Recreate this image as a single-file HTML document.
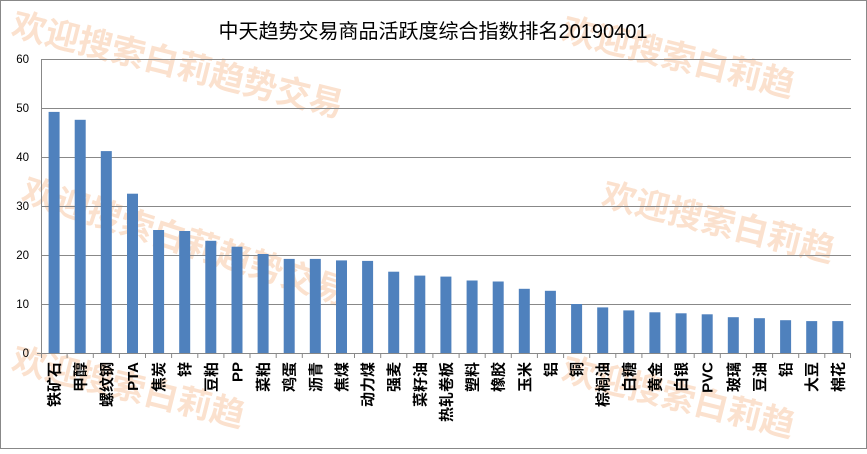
<!DOCTYPE html>
<html><head><meta charset="utf-8"><style>
body{margin:0;background:#fff;}
</style></head><body>
<svg width="867" height="449" xmlns="http://www.w3.org/2000/svg" font-family="Liberation Sans, Noto Sans CJK SC, sans-serif">
<rect x="0.5" y="0.5" width="866" height="448" fill="#fff" stroke="#888"/>
<g fill="#f7c9a6" opacity="0.55" font-size="34" font-weight="bold">
<text transform="translate(10,35) rotate(14)">欢迎搜索白莉趋势交易</text>
<text transform="translate(560,40) rotate(14)">欢迎搜索白莉趋</text>
<text transform="translate(20,200) rotate(18)">欢迎搜索白莉趋势交易</text>
<text transform="translate(600,205) rotate(14)">欢迎搜索白莉趋</text>
<text transform="translate(10,370) rotate(14)">欢迎搜索白莉趋</text>
<text transform="translate(560,380) rotate(14)">欢迎搜索白莉趋</text>
</g>
<text x="433" y="38" text-anchor="middle" font-size="20" fill="#000">中天趋势交易商品活跃度综合指数排名20190401</text>
<g stroke="#888" stroke-width="1">
<line x1="41" y1="59.5" x2="851" y2="59.5"/>
<line x1="41" y1="108.5" x2="851" y2="108.5"/>
<line x1="41" y1="157.5" x2="851" y2="157.5"/>
<line x1="41" y1="206.5" x2="851" y2="206.5"/>
<line x1="41" y1="255.5" x2="851" y2="255.5"/>
<line x1="41" y1="304.5" x2="851" y2="304.5"/>
<line x1="41.5" y1="59" x2="41.5" y2="358"/>
<line x1="37" y1="353.5" x2="851" y2="353.5"/>
<line x1="67.1" y1="353" x2="67.1" y2="358"/><line x1="93.3" y1="353" x2="93.3" y2="358"/><line x1="119.4" y1="353" x2="119.4" y2="358"/><line x1="145.5" y1="353" x2="145.5" y2="358"/><line x1="171.6" y1="353" x2="171.6" y2="358"/><line x1="197.8" y1="353" x2="197.8" y2="358"/><line x1="223.9" y1="353" x2="223.9" y2="358"/><line x1="250" y1="353" x2="250" y2="358"/><line x1="276.2" y1="353" x2="276.2" y2="358"/><line x1="302.3" y1="353" x2="302.3" y2="358"/><line x1="328.4" y1="353" x2="328.4" y2="358"/><line x1="354.5" y1="353" x2="354.5" y2="358"/><line x1="380.7" y1="353" x2="380.7" y2="358"/><line x1="406.8" y1="353" x2="406.8" y2="358"/><line x1="432.9" y1="353" x2="432.9" y2="358"/><line x1="459.1" y1="353" x2="459.1" y2="358"/><line x1="485.2" y1="353" x2="485.2" y2="358"/><line x1="511.3" y1="353" x2="511.3" y2="358"/><line x1="537.4" y1="353" x2="537.4" y2="358"/><line x1="563.6" y1="353" x2="563.6" y2="358"/><line x1="589.7" y1="353" x2="589.7" y2="358"/><line x1="615.8" y1="353" x2="615.8" y2="358"/><line x1="641.9" y1="353" x2="641.9" y2="358"/><line x1="668.1" y1="353" x2="668.1" y2="358"/><line x1="694.2" y1="353" x2="694.2" y2="358"/><line x1="720.3" y1="353" x2="720.3" y2="358"/><line x1="746.4" y1="353" x2="746.4" y2="358"/><line x1="772.6" y1="353" x2="772.6" y2="358"/><line x1="798.7" y1="353" x2="798.7" y2="358"/><line x1="824.8" y1="353" x2="824.8" y2="358"/><line x1="850.5" y1="353" x2="850.5" y2="358"/>
</g>
<g font-size="11.5" fill="#000" text-anchor="end">
<text x="29" y="63">60</text><text x="29" y="112">50</text><text x="29" y="161">40</text>
<text x="29" y="210">30</text><text x="29" y="259">20</text><text x="29" y="308">10</text><text x="29" y="357">0</text>
</g>
<g fill="#4f81bd">
<rect x="48.6" y="111.9" width="11" height="241.1"/>
<rect x="74.7" y="119.8" width="11" height="233.2"/>
<rect x="100.8" y="151.1" width="11" height="201.9"/>
<rect x="127" y="193.7" width="11" height="159.3"/>
<rect x="153.1" y="230" width="11" height="123"/>
<rect x="179.2" y="231" width="11" height="122"/>
<rect x="205.3" y="240.8" width="11" height="112.2"/>
<rect x="231.5" y="246.7" width="11" height="106.3"/>
<rect x="257.6" y="254" width="11" height="99"/>
<rect x="283.7" y="258.9" width="11" height="94.1"/>
<rect x="309.8" y="258.9" width="11" height="94.1"/>
<rect x="336" y="260.4" width="11" height="92.6"/>
<rect x="362.1" y="260.9" width="11" height="92.1"/>
<rect x="388.2" y="271.7" width="11" height="81.3"/>
<rect x="414.3" y="275.6" width="11" height="77.4"/>
<rect x="440.4" y="276.6" width="11" height="76.4"/>
<rect x="466.6" y="280.5" width="11" height="72.5"/>
<rect x="492.7" y="281.5" width="11" height="71.5"/>
<rect x="518.8" y="288.8" width="11" height="64.2"/>
<rect x="544.9" y="290.8" width="11" height="62.2"/>
<rect x="571.1" y="304" width="11" height="49"/>
<rect x="597.2" y="307.4" width="11" height="45.6"/>
<rect x="623.3" y="310.4" width="11" height="42.6"/>
<rect x="649.4" y="312.3" width="11" height="40.7"/>
<rect x="675.6" y="313.3" width="11" height="39.7"/>
<rect x="701.7" y="314.3" width="11" height="38.7"/>
<rect x="727.8" y="317.2" width="11" height="35.8"/>
<rect x="753.9" y="318.2" width="11" height="34.8"/>
<rect x="780.1" y="320.2" width="11" height="32.8"/>
<rect x="806.2" y="321.1" width="11" height="31.9"/>
<rect x="832.3" y="321.1" width="11" height="31.9"/>
</g>
<g font-size="15" font-weight="bold" fill="#000" text-anchor="end">
<text transform="translate(59.6,362) rotate(-90)">铁矿石</text>
<text transform="translate(85.7,362) rotate(-90)">甲醇</text>
<text transform="translate(111.8,362) rotate(-90)">螺纹钢</text>
<text transform="translate(138,362) rotate(-90)">PTA</text>
<text transform="translate(164.1,362) rotate(-90)">焦炭</text>
<text transform="translate(190.2,362) rotate(-90)">锌</text>
<text transform="translate(216.3,362) rotate(-90)">豆粕</text>
<text transform="translate(242.5,362) rotate(-90)">PP</text>
<text transform="translate(268.6,362) rotate(-90)">菜粕</text>
<text transform="translate(294.7,362) rotate(-90)">鸡蛋</text>
<text transform="translate(320.8,362) rotate(-90)">沥青</text>
<text transform="translate(347,362) rotate(-90)">焦煤</text>
<text transform="translate(373.1,362) rotate(-90)">动力煤</text>
<text transform="translate(399.2,362) rotate(-90)">强麦</text>
<text transform="translate(425.3,362) rotate(-90)">菜籽油</text>
<text transform="translate(451.4,362) rotate(-90)">热轧卷板</text>
<text transform="translate(477.6,362) rotate(-90)">塑料</text>
<text transform="translate(503.7,362) rotate(-90)">橡胶</text>
<text transform="translate(529.8,362) rotate(-90)">玉米</text>
<text transform="translate(555.9,362) rotate(-90)">铝</text>
<text transform="translate(582.1,362) rotate(-90)">铜</text>
<text transform="translate(608.2,362) rotate(-90)">棕榈油</text>
<text transform="translate(634.3,362) rotate(-90)">白糖</text>
<text transform="translate(660.4,362) rotate(-90)">黄金</text>
<text transform="translate(686.6,362) rotate(-90)">白银</text>
<text transform="translate(712.7,362) rotate(-90)">PVC</text>
<text transform="translate(738.8,362) rotate(-90)">玻璃</text>
<text transform="translate(764.9,362) rotate(-90)">豆油</text>
<text transform="translate(791.1,362) rotate(-90)">铅</text>
<text transform="translate(817.2,362) rotate(-90)">大豆</text>
<text transform="translate(843.3,362) rotate(-90)">棉花</text>
</g>
</svg>
</body></html>
